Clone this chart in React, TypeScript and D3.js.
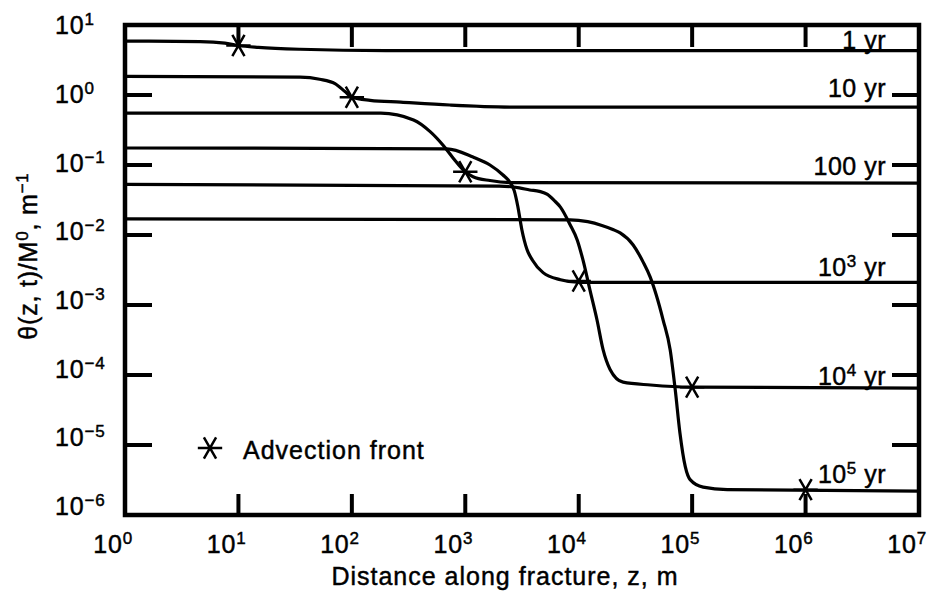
import React from "react";
import * as d3 from "d3";

const width = 930;
const height = 593;
const left = 125;
const right = 919;
const top = 25;
const bottom = 515;

// tick exponents
const xExponents = [0, 1, 2, 3, 4, 5, 6, 7];
const yExponents = [1, 0, -1, -2, -3, -4, -5, -6];

// curves: [z (m), theta/M0 (1/m)]
const curve1yr = [[1, 5.9], [4.6, 5.8], [7.6, 5.5], [10, 5.1], [15, 4.8], [35, 4.5], [200, 4.3], [1e7, 4.3]];
const curve10yr = [[1, 1.85], [35, 1.8], [52, 1.68], [71, 1.45], [87, 1.12], [100, 0.93], [145, 0.84], [270, 0.79], [730, 0.72], [3000, 0.67], [1e7, 0.67]];
const curve100yr = [[1, 0.55], [180, 0.55], [350, 0.44], [490, 0.3], [640, 0.19], [780, 0.126], [1000, 0.08], [1170, 0.068], [1650, 0.06], [2600, 0.056], [1e7, 0.055]];
const curve1e3yr = [[1, 0.175], [690, 0.17], [1170, 0.13], [1650, 0.1], [2150, 0.072], [2450, 0.058], [2700, 0.043], [2900, 0.026], [3150, 0.012], [3500, 0.0062], [3900, 0.0044], [4850, 0.0029], [6900, 0.0023], [10300, 0.0021], [1e7, 0.0021]];
const curve1e4yr = [[1, 0.053], [2000, 0.05], [3000, 0.047], [3700, 0.044], [4500, 0.042], [5300, 0.038], [6100, 0.031], [6900, 0.025], [8400, 0.014], [9700, 0.0085], [10900, 0.0044], [12600, 0.0016], [14500, 6.1e-4], [16400, 2.3e-4], [18900, 1.2e-4], [24600, 7.9e-5], [43000, 7.2e-5], [96000, 6.7e-5], [1e7, 6.5e-5]];
const curve1e5yr = [[1, 0.017], [8400, 0.0165], [12000, 0.0155], [16000, 0.0137], [20000, 0.012], [23200, 0.0107], [30200, 0.0072], [37000, 0.0041], [42700, 0.0025], [48200, 0.0014], [55500, 6.1e-4], [64000, 2.3e-4], [71000, 6.1e-5], [78000, 1.5e-5], [87000, 4.9e-6], [96000, 3.2e-6], [125000, 2.5e-6], [204000, 2.3e-6], [1e7, 2.2e-6]];

const curves = [curve1yr, curve10yr, curve100yr, curve1e3yr, curve1e4yr, curve1e5yr];

// time labels (base, exponent)
const labelBase = ["1", "10", "100", "10", "10", "10"];
const labelExp = ["", "", "", "3", "4", "5"];

// advection front markers
const frontZ = [10, 100, 1000, 1e4, 1e5, 1e6];
const frontTheta = [5.1, 0.93, 0.08, 0.0022, 6.7e-5, 2.3e-6];

const labelDy = [-2, -10, -8, -6, -3, -8];

const font = "'Liberation Sans', Arial, Helvetica, sans-serif";
const ink = { fill: "black", stroke: "black", strokeWidth: 0.45 };

const Pow = ({ x, y, exp, anchor }) => (
  <text x={x} y={y} textAnchor={anchor} fontSize={25} letterSpacing={0.8} {...ink}>
    10
    <tspan fontSize={17} dy={-9}>
      {exp < 0 ? "\u2212" + -exp : exp}
    </tspan>
  </text>
);

const App = () => {
  const xScale = d3.scaleLog().domain([1, 1e7]).range([left, right]);
  const yScale = d3.scaleLog().domain([1e-6, 10]).range([bottom, top]);
  const line = d3
    .line()
    .x(d => xScale(d[0]))
    .y(d => yScale(d[1]))
    .curve(d3.curveMonotoneX);
  const star = d3.symbol(d3.symbolAsterisk, 420)();

  return (
    <div>
      <style>{"body{margin:0}"}</style>
      <svg width={width} height={height} fontFamily={font} style={{ display: "block" }}>
        <rect width={width} height={height} fill="white" />
        {curves.map((c, i) => (
          <path key={i} d={line(c)} fill="none" stroke="black" strokeWidth={3.2} />
        ))}
        {frontZ.map((z, i) => (
          <path
            key={i}
            d={star}
            transform={`translate(${xScale(z)},${yScale(frontTheta[i])}) rotate(90)`}
            fill="none"
            stroke="black"
            strokeWidth={2.5}
          />
        ))}
        {/* frame */}
        <rect x={left} y={top} width={right - left} height={bottom - top} fill="none" stroke="black" strokeWidth={4.5} />
        {/* x ticks */}
        {xExponents.slice(1, -1).map(e => (
          <g key={e}>
            <line x1={xScale(10 ** e)} x2={xScale(10 ** e)} y1={top} y2={top + 22} stroke="black" strokeWidth={4} />
            <line x1={xScale(10 ** e)} x2={xScale(10 ** e)} y1={bottom} y2={bottom - 21} stroke="black" strokeWidth={4} />
          </g>
        ))}
        {/* y ticks */}
        {yExponents.slice(1, -1).map(e => (
          <g key={e}>
            <line x1={left} x2={left + 27} y1={yScale(10 ** e)} y2={yScale(10 ** e)} stroke="black" strokeWidth={4} />
            <line x1={right} x2={right - 27} y1={yScale(10 ** e)} y2={yScale(10 ** e)} stroke="black" strokeWidth={4} />
          </g>
        ))}
        {xExponents.map(e => (
          <Pow key={e} x={xScale(10 ** e) + 8} y={553} exp={e} anchor="end" />
        ))}
        {yExponents.map(e => (
          <Pow key={e} x={55} y={yScale(10 ** e) + 1.3 * (e + 6)} exp={e} anchor="start" />
        ))}
        {/* time labels */}
        {curves.map((c, i) => (
          <text
            key={i}
            x={886}
            y={yScale(c[c.length - 1][1]) + labelDy[i]}
            textAnchor="end"
            fontSize={25}
            letterSpacing={0.5}
            {...ink}
          >
            {labelBase[i]}
            {labelExp[i] && (
              <tspan fontSize={17} dy={-9}>
                {labelExp[i]}
              </tspan>
            )}
            <tspan dy={labelExp[i] ? 9 : 0}> yr</tspan>
          </text>
        ))}
        {/* legend */}
        <path d={star} transform="translate(210,448) rotate(90)" fill="none" stroke="black" strokeWidth={2.5} />
        <text x={243} y={459} fontSize={25} letterSpacing={1} {...ink}>
          Advection front
        </text>
        {/* axis titles */}
        <text x={505} y={585} textAnchor="middle" fontSize={25} letterSpacing={1} {...ink}>
          Distance along fracture, z, m
        </text>
        <text transform="translate(37,256) rotate(-90)" textAnchor="middle" fontSize={25} letterSpacing={0.8} {...ink}>
          θ(z, t)/M
          <tspan fontSize={17} dy={-9}>0</tspan>
          <tspan dy={9}>, m</tspan>
          <tspan fontSize={17} dy={-9}>{"\u22121"}</tspan>
        </text>
      </svg>
    </div>
  );
};

export default App;
